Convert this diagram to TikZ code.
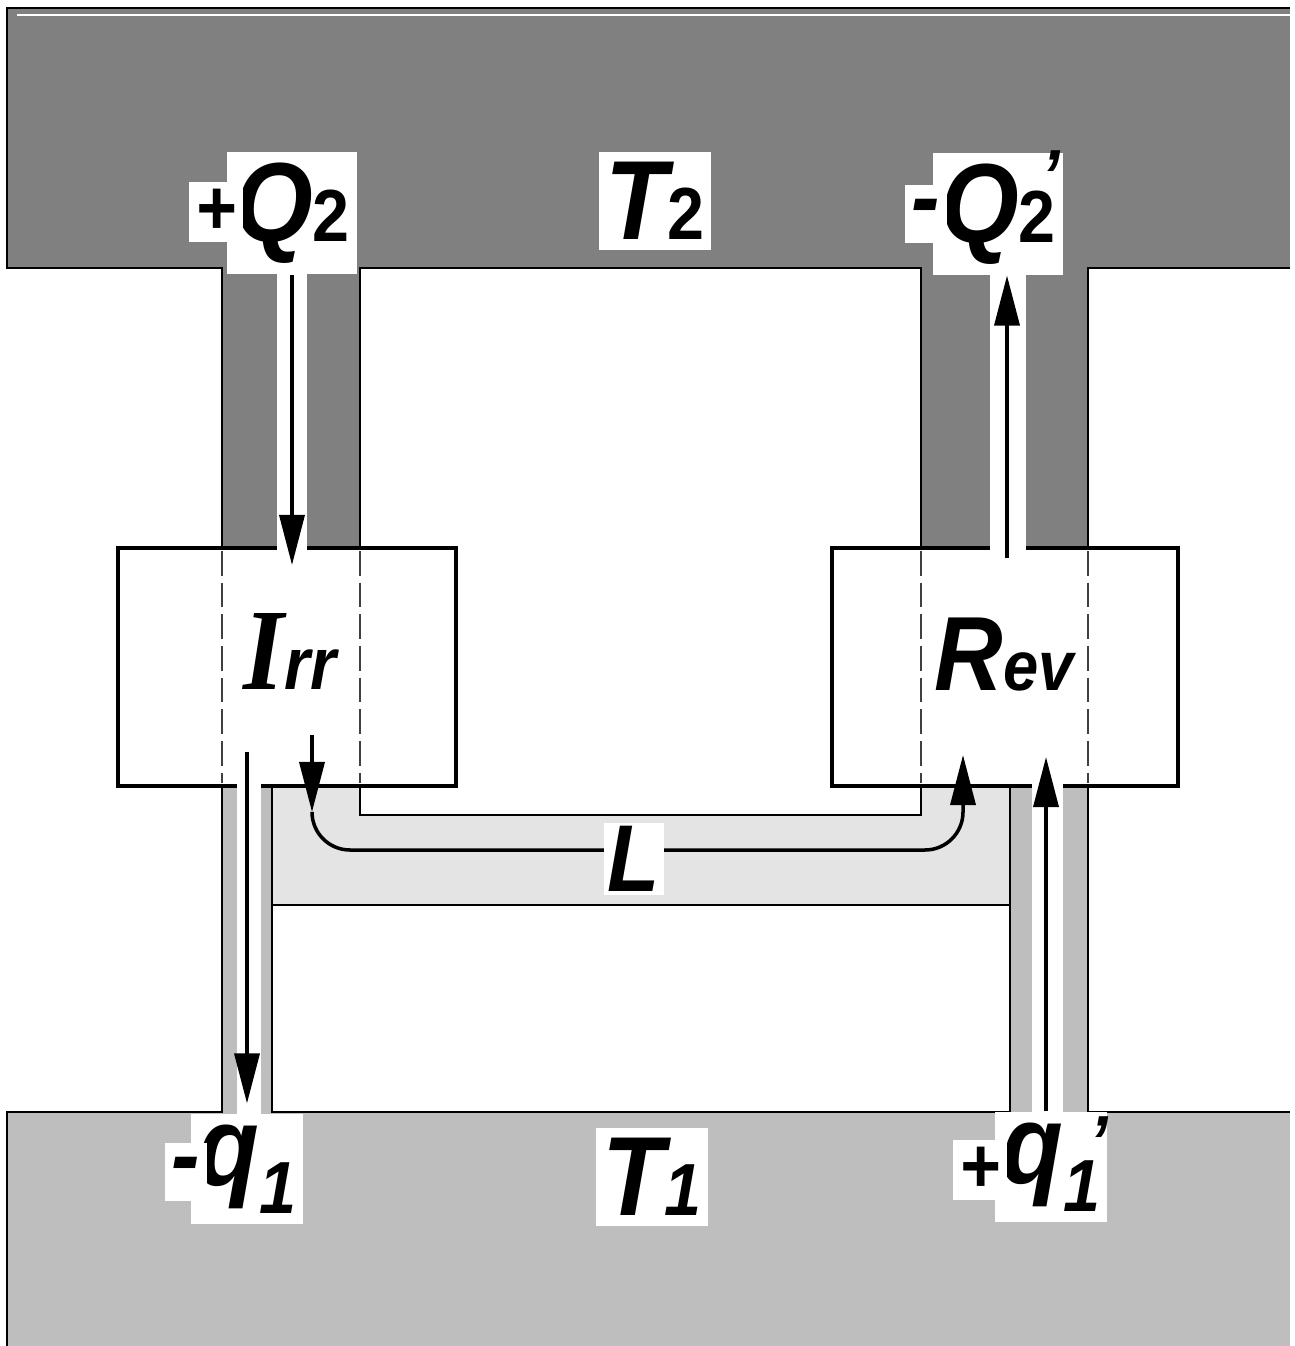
\documentclass[tikz,border=0pt]{standalone}
\usepackage{fontspec}
\setmainfont{Liberation Sans}[FakeStretch=0.9]
\newfontfamily\irrfont{Liberation Serif}[FakeStretch=0.9]
\usetikzlibrary{arrows.meta,positioning}

\definecolor{hotgray}{HTML}{808080}
\definecolor{coldgray}{HTML}{BEBEBE}
\definecolor{workgray}{HTML}{E4E4E4}

\newcommand{\lblsub}[2]{#1{\fontsize{21}{21}\selectfont #2}}
\newcommand{\lblsubp}[2]{#1{\fontsize{21}{21}\selectfont\rlap{\smash{\raisebox{0.55em}{\hspace{0.3em}'}}}#2}}

\begin{document}
\begin{tikzpicture}[
x=0.01cm,
y=-0.01cm,
outline/.style={
draw=black,
line width=0.5pt
},
engine/.style={
draw,
fill=white,
line width=1.2pt,
minimum height=2.38cm
},
seam/.style={
draw=black!75,
line width=0.4pt,
dash pattern=on 7pt off 2pt
},
heat/.style={
line width=1pt,
-{Triangle[length=5mm,width=2.5mm]}
},
tag/.style={
fill=white,
inner xsep=2pt,
inner ysep=3pt,
font=\fontsize{32}{32}\selectfont\bfseries\itshape
},
sign/.style={
fill=white,
inner sep=2pt,
font=\fontsize{22}{22}\selectfont\bfseries\itshape
},
dashsign/.style={
sign,
inner ysep=4pt,
font=\fontsize{27}{27}\selectfont\bfseries\itshape
},
engname/.style={
inner sep=0pt,
font=\bfseries\itshape
}
]
\useasboundingbox (0,0) rectangle (1295,1346);

% reservoirs and channels
\fill[hotgray] (7,8) rectangle (1290,268);
\fill[hotgray] (222,268) rectangle (360,548);
\fill[hotgray] (921,268) rectangle (1088,548);
\fill[coldgray] (7,1112) rectangle (1290,1346);
\fill[coldgray] (222,786) rectangle (272,1112);
\fill[coldgray] (1010,786) rectangle (1088,1112);
\fill[workgray] (272,786) rectangle (1010,905);
\fill[white] (360,786) rectangle (921,815);

% outlines
\draw[outline] (222,548) -- (222,268) -- (7,268) -- (7,8) -- (1290,8);
\draw[white, line width=0.6pt] (17,15) -- (1290,15);
\draw[outline] (360,548) -- (360,268) -- (921,268) -- (921,548);
\draw[outline] (1088,548) -- (1088,268) -- (1290,268);
\draw[outline] (360,786) -- (360,815) -- (921,815) -- (921,786);
\draw[outline] (222,786) -- (222,1112) -- (7,1112) -- (7,1346);
\draw[outline] (272,786) -- (272,1112) -- (1010,1112) -- (1010,786);
\draw[outline] (272,905) -- (1010,905);
\draw[outline] (1088,786) -- (1088,1112) -- (1290,1112);

% engines
\node[engine, minimum width=3.38cm] (irr) at (287,667) {};
\node[engine, minimum width=3.46cm] (rev) at (1005,667) {};

\foreach \x in {222,360,921,1088}
\draw[seam] (\x,551) -- (\x,783);

% white gaps for the heat flows
\fill[white] (277,262) rectangle (307,552);
\fill[white] (990,262) rectangle (1026,552);
\fill[white] (237,782) rectangle (261,1126);
\fill[white] (1032,782) rectangle (1063,1124);

\node[engname] (irrtxt) at (290,652)
{{\irrfont\fontsize{33}{33}\selectfont I}{\fontsize{21}{21}\selectfont rr}};
\node[engname] (revtxt) at (1004,655)
{{\fontsize{30}{30}\selectfont R}{\fontsize{20}{20}\selectfont ev}};

% labels
\node[tag] (t2) at (655,201) {\lblsub{T}{\upshape 2}};
\node[tag] (q2) at (292,213) {\lblsub{Q}{\upshape 2}};
\node[sign] (q2sign) at (216,212) {+};
\node[tag] (q2p) at (998,214) {\lblsubp{Q}{\upshape 2}};
\node[dashsign] (q2psign) at (926,214) {-};

\node[tag] (t1) at (652,1177) {\lblsub{T}{1}};
\node[tag] (q1) at (247,1169) {q\raisebox{-0.25em}{\fontsize{21}{21}\selectfont 1}};
\node[dashsign] (q1sign) at (186,1172) {-};
\node[tag] (q1p) at (1051,1167) {q\raisebox{-0.25em}{\fontsize{21}{21}\selectfont\rlap{\smash{\raisebox{0.6em}{\hspace{0.35em}'}}}1}};
\node[sign] (q1psign) at (980,1170) {+};

\coordinate (irrin) at (292,565);
\coordinate (irrout) at (247,752);
\coordinate (revout) at (1007,558);
\coordinate (revin) at (1046,757);
\coordinate (workin) at (312,735);
\coordinate (workbend) at (312,812);
\coordinate (workbase) at (640,850);
\coordinate (workout) at (963,755);

% heat and work flows
\draw[heat] (q2) -- (irrin);
\draw[heat] (revout) -- (revout |- q2p.south);
\draw[heat, shorten >=1mm] (irrout) -- (irrout |- q1.north);
\draw[heat] (revin |- q1p.north) -- (revin);
\draw[heat] (workin) -- (workbend);
\draw[heat, rounded corners=0.38cm] (workbend) |- (workbase) -| (workout);

\node[tag, inner sep=1pt, font=\fontsize{27}{27}\selectfont\bfseries\itshape] (L) at (634,859) {L};

\end{tikzpicture}
\end{document}
